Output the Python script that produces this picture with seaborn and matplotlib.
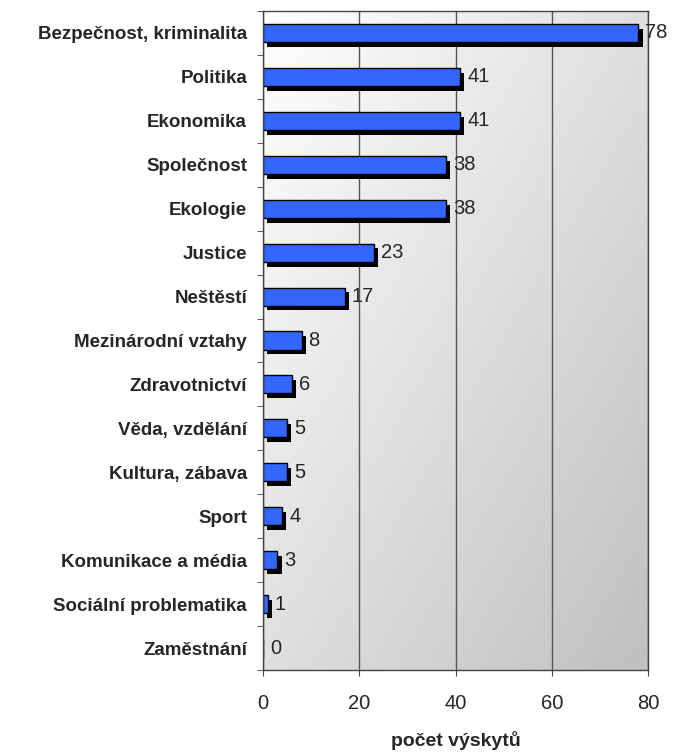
import matplotlib
matplotlib.use("Agg")
import matplotlib.pyplot as plt
import matplotlib.patheffects as pe
import seaborn as sns
import numpy as np
import pandas as pd

# data
categories = ["Bezpečnost, kriminalita", "Politika", "Ekonomika", "Společnost",
              "Ekologie", "Justice", "Neštěstí", "Mezinárodní vztahy",
              "Zdravotnictví", "Věda, vzdělání", "Kultura, zábava", "Sport",
              "Komunikace a média", "Sociální problematika", "Zaměstnání"]
counts = [78, 41, 41, 38, 38, 23, 17, 8, 6, 5, 5, 4, 3, 1, 0]
x_ticks = [0, 20, 40, 60, 80]

BLUE = "#3366FF"

sns.set_style("white")
plt.rcParams["font.family"] = ["Liberation Sans", "DejaVu Sans"]

df = pd.DataFrame({"kategorie": categories, "pocet": counts})

fig = plt.figure(figsize=(6.73, 7.55), dpi=100)
ax = fig.add_axes([263 / 673, 1 - 670 / 755, 385 / 673, 659 / 755])

#  diagonal grey gradient behind the plot (white top-left -> grey bottom-right)
gx, gy = np.meshgrid(np.linspace(0, 1, 200), np.linspace(0, 1, 200))
grad = 1.0 - 0.125 * (gx + gy)
ax.imshow(grad, extent=[0, 1, 0, 1], transform=ax.transAxes, cmap="gray",
          vmin=0, vmax=1, aspect="auto", zorder=0, origin="upper",
          interpolation="bilinear")

sns.barplot(data=df, x="pocet", y="kategorie", orient="h", color=BLUE,
            saturation=1, width=0.41, edgecolor="black", linewidth=1.0, ax=ax,
            zorder=2)

#  black drop shadow under every bar
for bar in ax.patches:
    bar.set_path_effects([pe.SimplePatchShadow(offset=(3, -3.5), shadow_rgbFace="black",
                                               alpha=1.0), pe.Normal()])

ax.bar_label(ax.containers[0], labels=[str(c) for c in counts], padding=5,
             fontsize=14.5)

ax.set_xlim(0, 80)
ax.set_ylim(len(categories) - 0.5, -0.5)
ax.set_xticks(x_ticks)
ax.set_yticks(np.arange(len(categories) + 1) - 0.5, minor=True)
ax.tick_params(axis="y", which="major", length=0, pad=11.5, labelsize=13.5)
ax.tick_params(axis="y", which="minor", length=4, color="#444444", left=True)
ax.tick_params(axis="x", length=4, color="#444444", bottom=True, labelsize=14.5, pad=13)
for lab in ax.get_yticklabels():
    lab.set_fontweight("bold")

ax.grid(axis="x", color="#555555", linewidth=1.0)
ax.set_axisbelow(True)
for sp in ax.spines.values():
    sp.set_color("#444444")
    sp.set_linewidth(1.0)

ax.set_ylabel("")
ax.set_xlabel("počet výskytů", fontsize=14, fontweight="bold", labelpad=13)

fig.savefig("out.png", dpi=100)
